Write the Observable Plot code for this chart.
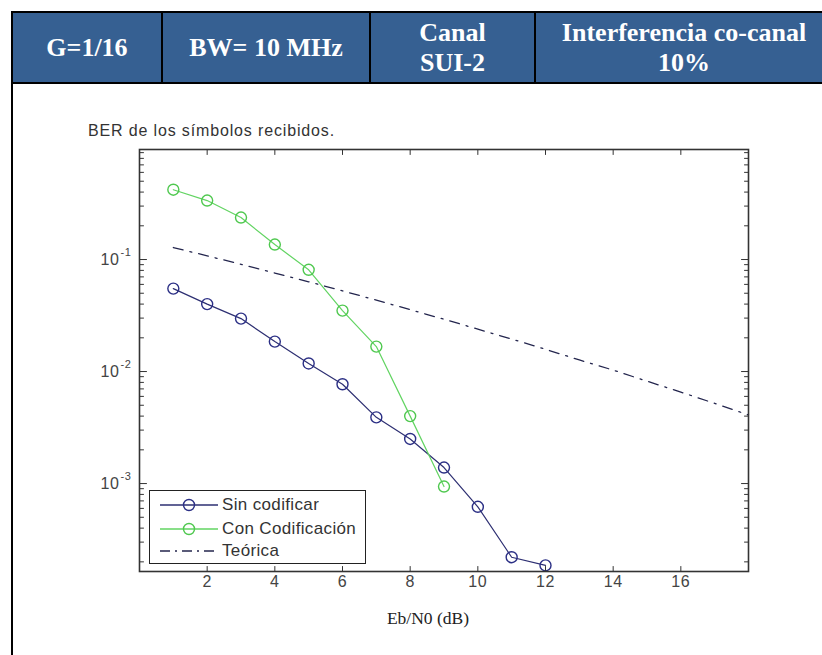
<!DOCTYPE html>
<html><head><meta charset="utf-8">
<script src="https://cdn.jsdelivr.net/npm/d3@7"></script>
<script src="https://cdn.jsdelivr.net/npm/@observablehq/plot@0.6"></script>
<style>
body{margin:0;background:#fff;}
#page{position:relative;width:822px;height:655px;overflow:hidden;background:#fff;font-family:"Liberation Sans",Arial,sans-serif;}
#hdrbg{position:absolute;left:11px;top:11px;width:840px;height:69px;background:#366092;border:2px solid #000;}
.vdiv{position:absolute;top:11px;width:2px;height:73px;background:#000;}
#leftborder{position:absolute;left:11px;top:82px;width:2px;height:580px;background:#000;}
.hdr{position:absolute;top:13px;height:69px;display:flex;align-items:center;justify-content:center;text-align:center;color:#fff;font:bold 26px/30px "Liberation Serif","Times New Roman",serif;}
#title{position:absolute;left:88px;top:122px;font-size:16px;line-height:18px;letter-spacing:0.85px;color:#333;white-space:nowrap;}
#xlabel{position:absolute;left:328px;width:200px;top:607px;text-align:center;font:17.5px/22px "Liberation Serif","Times New Roman",serif;color:#222;}
#chart{position:absolute;left:80px;top:140px;}
#legend{position:absolute;left:149px;top:490px;width:215px;height:72px;border:1.5px solid #222;background:#fff;}
.lrow{position:absolute;left:0;height:22px;width:215px;}
.lrow svg{position:absolute;left:9px;top:0;}
.lrow span{position:absolute;left:72px;top:0px;font-size:17px;line-height:21px;letter-spacing:0.35px;color:#333;white-space:nowrap;}
</style>
</head><body>
<div id="page">
  <div id="hdrbg"></div>
  <div class="vdiv" style="left:161px"></div>
  <div class="vdiv" style="left:369px"></div>
  <div class="vdiv" style="left:534px"></div>
  <div id="leftborder"></div>
  <div class="hdr" style="left:13px;width:148px">G=1/16</div>
  <div class="hdr" style="left:163px;width:206px">BW= 10 MHz</div>
  <div class="hdr" style="left:371px;width:163px">Canal<br>SUI-2</div>
  <div class="hdr" style="left:536px;width:296px">Interferencia co-canal<br>10%</div>
  <div id="title">BER de los símbolos recibidos.</div>
  <div id="chart"></div>
  <div id="legend"></div>
  <div id="xlabel">Eb/N0 (dB)</div>
</div>
<script>
// ---- data ----
const ebn0Sin = [1, 2, 3, 4, 5, 6, 7, 8, 9, 10, 11, 12];
const berSin = [0.055, 0.040, 0.0297, 0.0185, 0.0118, 0.0077, 0.0039, 0.0025, 0.00139, 0.00062, 0.00022, 0.000186];
const ebn0Con = [1, 2, 3, 4, 5, 6, 7, 8, 9];
const berCon = [0.42, 0.336, 0.237, 0.136, 0.081, 0.035, 0.0167, 0.0040, 0.00094];
const ebn0Teo = [1, 2, 3, 4, 5, 6, 7, 8, 9, 10, 11, 12, 13, 14, 15, 16, 17, 18];
const berTeo = [0.128, 0.108, 0.0906, 0.0758, 0.0633, 0.0525, 0.0434, 0.0357, 0.0293, 0.0239, 0.0195, 0.0158, 0.0127, 0.0103, 0.0082, 0.00655, 0.0052, 0.0041];
const seriesNames = ["Sin codificar", "Con Codificación", "Teórica"];
const xTicks = [2, 4, 6, 8, 10, 12, 14, 16];
const yMajor = [1e-3, 1e-2, 1e-1];
const yDomain = [1.64e-4, 0.96];
const xDomain = [0, 18];

const colSin = "#2d2f72", colSinDot = "#2b2f85";
const colCon = "#62d462", colConDot = "#4fc84f";
const colTeo = "#24264e";

const sin = ebn0Sin.map((x, i) => ({x, y: berSin[i]}));
const con = ebn0Con.map((x, i) => ({x, y: berCon[i]}));
const teo = ebn0Teo.map((x, i) => ({x, y: berTeo[i]}));

// minor log ticks (axis decoration)
const yMinor = [];
for (const dec of [1e-4, 1e-3, 1e-2, 1e-1]) for (let k = 2; k <= 9; k++) {
  const v = k * dec; if (v > yDomain[0] && v < yDomain[1]) yMinor.push(v);
}

const tickShape = {draw(ctx, l) { ctx.moveTo(0, 0); ctx.lineTo(0, -l); }};
const tk = {stroke: "#333", strokeWidth: 1, anchor: "start", shape: tickShape};

const chart = Plot.plot({
  width: 700, height: 470,
  marginTop: 9, marginBottom: 39, marginLeft: 59, marginRight: 32,
  x: {domain: xDomain, axis: null},
  y: {type: "log", domain: yDomain, axis: null},
  style: {fontFamily: "'Liberation Sans', Arial, sans-serif", background: "transparent", letterSpacing: "0.6px"},
  marks: [
    Plot.line(teo, {x: "x", y: "y", stroke: colTeo, strokeWidth: 1.3, strokeDasharray: "10,7,2,7"}),
    Plot.line(sin, {x: "x", y: "y", stroke: colSin, strokeWidth: 1.2}),
    Plot.dot(sin, {x: "x", y: "y", r: 5.5, stroke: colSinDot, strokeWidth: 1.4, fill: "none"}),
    Plot.line(con, {x: "x", y: "y", stroke: colCon, strokeWidth: 1.2}),
    Plot.dot(con, {x: "x", y: "y", r: 5.5, stroke: colConDot, strokeWidth: 1.4, fill: "none"}),
    Plot.vector(xTicks, {x: d => d, frameAnchor: "bottom", length: 5, rotate: 0, ...tk}),
    Plot.vector(xTicks, {x: d => d, frameAnchor: "top", length: 5, rotate: 180, ...tk}),
    Plot.vector(yMajor, {y: d => d, frameAnchor: "left", length: 7, rotate: 90, ...tk}),
    Plot.vector(yMajor, {y: d => d, frameAnchor: "right", length: 7, rotate: -90, ...tk}),
    Plot.vector(yMinor, {y: d => d, frameAnchor: "left", length: 4, rotate: 90, ...tk}),
    Plot.vector(yMinor, {y: d => d, frameAnchor: "right", length: 4, rotate: -90, ...tk}),
    Plot.frame({stroke: "#333", strokeWidth: 1.6}),
    Plot.text(xTicks, {x: d => d, frameAnchor: "bottom", dy: 15, text: d => String(d), fontSize: 16, fill: "#444"}),
    Plot.text(yMajor, {y: d => d, frameAnchor: "left", dx: -20, textAnchor: "end", text: () => "10", fontSize: 16, fill: "#444"}),
    Plot.text(yMajor, {y: d => d, frameAnchor: "left", dx: -19, dy: -7, textAnchor: "start", text: d => String(Math.round(Math.log10(d))), fontSize: 11, fill: "#444"})
  ]
});
document.getElementById("chart").appendChild(chart);

// legend
const legend = document.getElementById("legend");
const rows = [
  {name: seriesNames[0], stroke: colSin, dot: colSinDot, dash: null},
  {name: seriesNames[1], stroke: colCon, dot: colConDot, dash: null},
  {name: seriesNames[2], stroke: colTeo, dot: null, dash: "10,5,2,5"}
];
const rowCenters = [14, 38, 60];
rows.forEach((r, i) => {
  const div = document.createElement("div");
  div.className = "lrow";
  div.style.top = (rowCenters[i] - 11) + "px";
  div.innerHTML = `<svg width="60" height="22"><line x1="1" x2="59" y1="11" y2="11" stroke="${r.stroke}" stroke-width="1.3" ${r.dash ? `stroke-dasharray="${r.dash}"` : ""}/>` +
    (r.dot ? `<circle cx="30" cy="11" r="5.5" fill="none" stroke="${r.dot}" stroke-width="1.4"/>` : "") +
    `</svg><span>${r.name}</span>`;
  legend.appendChild(div);
});
</script>
</body></html>
